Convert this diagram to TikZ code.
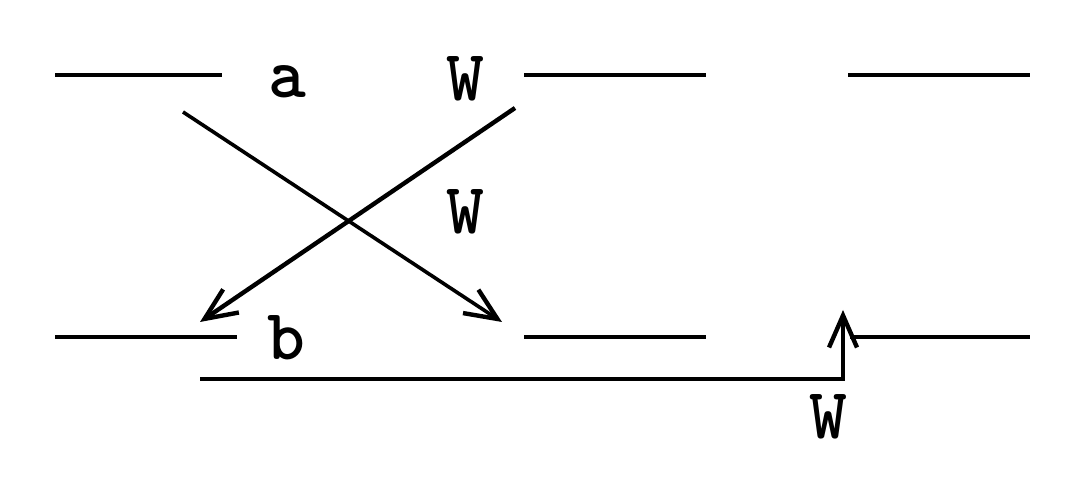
\documentclass[tikz,border=0pt]{standalone}
\usetikzlibrary{arrows.meta}
\begin{document}
\begin{tikzpicture}[x=0.25pt,y=-0.25pt,
  level/.style={line width=0.8pt},
  trans/.style={line width=0.9pt,-{Straight Barb[length=8pt,width=7pt,line width=1.1pt]}},
  lbl/.style={font=\fontsize{18}{20}\selectfont\ttfamily\bfseries,inner sep=0pt}]
\useasboundingbox (0,0) rectangle (1091,478);
% levels
\coordinate (t1a) at (55,75);  \coordinate (t1b) at (222,75);
\coordinate (t2a) at (524,75); \coordinate (t2b) at (706,75);
\coordinate (t3a) at (848,75); \coordinate (t3b) at (1030,75);
\coordinate (b1a) at (55,337); \coordinate (b1b) at (237,337);
\coordinate (b2a) at (524,337);\coordinate (b2b) at (706,337);
\coordinate (b3a) at (850,337);\coordinate (b3b) at (1030,337);
\draw[level] (t1a) -- (t1b);
\draw[level] (t2a) -- (t2b);
\draw[level] (t3a) -- (t3b);
\draw[level] (b1a) -- (b1b);
\draw[level] (b2a) -- (b2b);
\draw[level] (b3a) -- (b3b);
% labels
\node[lbl] (la) at (287,82) {a};
\node[lbl] (lw1) at (465,79) {W};
\node[lbl] (lw2) at (465,212) {W};
\node[lbl] (lb) at (286,338) {b};
\node[lbl] (lw3) at (828,417) {W};
% transitions
\coordinate (s1) at (183,112); \coordinate (e1) at (502,322);
\coordinate (s2) at (515,108); \coordinate (e2) at (200,322);
\draw[trans] (s1) -- (e1);
\draw[trans,line width=1.1pt] (s2) -- (e2);
\coordinate (s3) at (200,379); \coordinate (c3) at (843,379); \coordinate (e3) at (843,310);
\draw[trans,line width=1.1pt] (s3) -- (c3) -- (e3);
\end{tikzpicture}
\end{document}
